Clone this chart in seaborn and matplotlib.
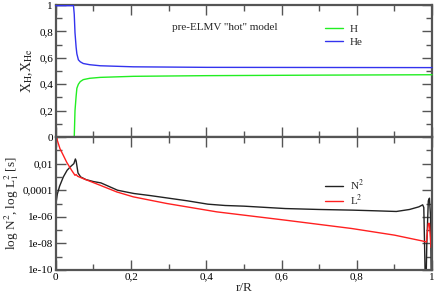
import matplotlib
matplotlib.use("Agg")
import matplotlib.pyplot as plt
import matplotlib.ticker as mticker
import numpy as np
import seaborn as sns

# composition profile
r_comp = [0.0, 0.047, 0.049, 0.051, 0.054, 0.056, 0.060, 0.065, 0.073, 0.09, 0.118, 0.206, 0.4, 0.7, 1.0]
x_he = [0.995, 0.995, 0.93, 0.79, 0.68, 0.63, 0.585, 0.57, 0.557, 0.548, 0.54, 0.532, 0.528, 0.527, 0.526]
x_h = [0.0, 0.0, 0.0, 0.2, 0.31, 0.37, 0.40, 0.42, 0.435, 0.445, 0.452, 0.46, 0.465, 0.469, 0.472]

# Brunt-Vaisala frequency (log10)
r_n2 = [0.0, 0.004, 0.01, 0.02, 0.03, 0.04, 0.048, 0.052, 0.054, 0.059, 0.066, 0.08, 0.1, 0.12,
        0.14, 0.164, 0.19, 0.208, 0.25, 0.3, 0.35, 0.404, 0.45, 0.5, 0.61, 0.7, 0.79, 0.85,
        0.905, 0.94, 0.965, 0.975, 0.978, 0.98, 0.982, 0.984, 0.986, 0.99, 0.993, 0.996, 0.998, 1.0]
log_n2 = [-5.1, -4.3, -3.7, -3.0, -2.5, -2.2, -2.0, -1.65, -1.8, -2.7, -3.0, -3.2, -3.35, -3.45,
          -3.7, -4.0, -4.15, -4.25, -4.4, -4.6, -4.8, -5.05, -5.15, -5.2, -5.38, -5.45, -5.5, -5.55,
          -5.6, -5.45, -5.25, -5.1, -5.3, -8.0, -11.0, -11.0, -8.0, -4.8, -4.6, -6.0, -11.0, -11.0]

# Lamb frequency l=1 (log10)
r_l2 = [0.002, 0.004, 0.011, 0.02, 0.029, 0.042, 0.051, 0.054, 0.058, 0.073, 0.118, 0.162,
        0.206, 0.295, 0.428, 0.609, 0.786, 0.9, 0.976, 0.985, 0.99, 0.993, 0.997, 1.0]
log_l2 = [0.2, -0.25, -0.87, -1.38, -1.9, -2.5, -2.88, -2.82, -2.95, -3.13, -3.63, -4.13,
          -4.5, -5.0, -5.63, -6.25, -6.88, -7.38, -7.83, -7.9, -6.5, -6.5, -8.3, -7.9]

sns.set_style("ticks")
plt.rcParams['font.family'] = ['Liberation Serif', 'DejaVu Serif']
plt.rcParams['mathtext.fontset'] = 'stix'

spine_col = '#555555'

fig = plt.figure(figsize=(4.36, 2.96), dpi=100)
ax1 = fig.add_axes([0.128, 0.537, 0.863, 0.446])
ax2 = fig.add_axes([0.128, 0.088, 0.863, 0.449])

sns.lineplot(x=r_comp, y=x_h, ax=ax1, color='#22ee22', lw=1.0, sort=False, estimator=None, label='H')
sns.lineplot(x=r_comp, y=x_he, ax=ax1, color='#3333ee', lw=1.0, sort=False, estimator=None, label='He')
for ln in ax1.lines:
    ln.set_zorder(5)
    ln.set_clip_on(False)

sns.lineplot(x=r_n2, y=10.0 ** np.array(log_n2), ax=ax2, color='#222222', lw=1.0, sort=False,
             estimator=None, label='N$^2$')
sns.lineplot(x=r_l2, y=10.0 ** np.array(log_l2), ax=ax2, color='#ff2020', lw=1.0, sort=False,
             estimator=None, label='L$^2$')

comma = mticker.FuncFormatter(lambda v, p: ('%g' % v).replace('.', ','))

def log_fmt(v, p):
    labels = {1e-2: '0,01', 1e-4: '0,0001', 1e-6: '1e-06', 1e-8: '1e-08', 1e-10: '1e-10'}
    for k, s in labels.items():
        if abs(np.log10(v) - np.log10(k)) < 0.01:
            return s
    return ''

for ax in (ax1, ax2):
    ax.set_xlim(0, 1)
    ax.xaxis.set_major_locator(mticker.MultipleLocator(0.2))
    ax.xaxis.set_minor_locator(mticker.MultipleLocator(0.1))
    ax.tick_params(which='both', direction='in', top=True, right=True, colors=spine_col,
                   labelcolor='black', labelsize=8, width=1.0, pad=2)
    ax.tick_params(which='major', length=7)
    ax.tick_params(which='minor', length=4)
    for sp in ax.spines.values():
        sp.set_color(spine_col)
        sp.set_linewidth(1.6)

ax1.set_ylim(0, 1)
ax1.yaxis.set_major_locator(mticker.MultipleLocator(0.2))
ax1.yaxis.set_minor_locator(mticker.MultipleLocator(0.1))
ax1.yaxis.set_major_formatter(comma)
ax1.set_xticklabels([])
ax1.set_ylabel('X$_\\mathrm{H}$,X$_\\mathrm{He}$', fontsize=10, labelpad=3)
ax1.text(0.45, 0.83, 'pre-ELMV "hot" model', transform=ax1.transAxes, ha='center', va='center',
         fontsize=8)
ax1.legend(loc='upper left', bbox_to_anchor=(0.69, 0.93), frameon=False, fontsize=8,
           handlelength=1.6, handletextpad=0.6, labelspacing=0.3)

ax2.set_yscale('log')
ax2.set_ylim(1e-10, 1)
ax2.yaxis.set_major_locator(mticker.FixedLocator([1e-10, 1e-8, 1e-6, 1e-4, 1e-2, 1]))
ax2.yaxis.set_minor_locator(mticker.FixedLocator([1e-9, 1e-7, 1e-5, 1e-3, 1e-1]))
ax2.yaxis.set_major_formatter(mticker.FuncFormatter(log_fmt))
ax2.yaxis.set_minor_formatter(mticker.NullFormatter())
ax2.xaxis.set_major_formatter(comma)
ax2.set_xlabel('r/R', fontsize=9.5, labelpad=0)
ax2.set_ylabel('log N$^2$, log L$^2_1$ [s]', fontsize=9.5, labelpad=1)
ax2.legend(loc='upper left', bbox_to_anchor=(0.69, 0.77), frameon=False, fontsize=8,
           handlelength=1.6, handletextpad=0.6, labelspacing=0.05)

fig.savefig('out.png', dpi=100)
